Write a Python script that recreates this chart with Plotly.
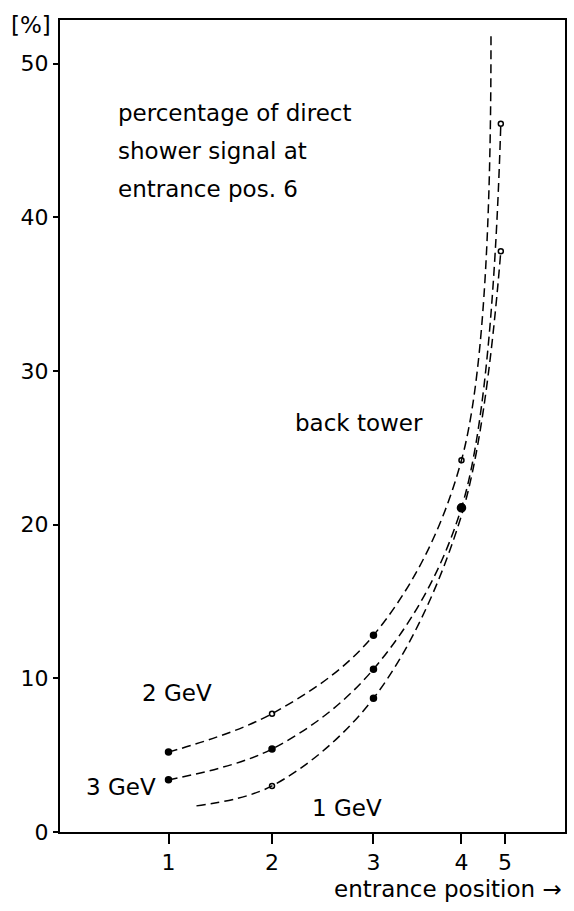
import plotly.graph_objects as go

# ---- data ----
tick_positions = [1.0, 2.0, 2.98, 3.83, 4.25]      # physical spacing of entrance positions
tick_labels = ["1", "2", "3", "4", "5"]
y_ticks = [0, 10, 20, 30, 40, 50]

# 2 GeV curve (last point = end of drawn curve, no marker)
x_2gev = [1.0, 2.0, 2.98, 3.83, 4.115]
y_2gev = [5.2, 7.7, 12.8, 24.2, 52.1]
sym_2gev = ["circle", "circle-open", "circle", "circle-open", "circle"]
size_2gev = [6, 5, 6, 5, 0]

# 3 GeV curve
x_3gev = [1.0, 2.0, 2.98, 3.83, 4.21]
y_3gev = [3.4, 5.4, 10.6, 21.1, 46.1]
sym_3gev = ["circle", "circle", "circle", "circle", "circle-open"]
size_3gev = [6, 6, 6, 8, 5]

# 1 GeV curve (first point = start of drawn curve, no marker)
x_1gev = [1.27, 2.0, 2.98, 3.83, 4.21]
y_1gev = [1.7, 3.0, 8.7, 20.6, 37.8]
sym_1gev = ["circle", "circle-open", "circle", "circle", "circle-open"]
size_1gev = [0, 5, 6, 0, 5]

FONT = "DejaVu Sans"

fig = go.Figure()
for xs, ys, syms, sizes, name in [
    (x_2gev, y_2gev, sym_2gev, size_2gev, "2 GeV"),
    (x_3gev, y_3gev, sym_3gev, size_3gev, "3 GeV"),
    (x_1gev, y_1gev, sym_1gev, size_1gev, "1 GeV"),
]:
    fig.add_trace(go.Scatter(
        x=xs, y=ys, name=name, mode="lines+markers",
        line=dict(color="black", width=1.5, dash="9px,5px", shape="spline", smoothing=1.0),
        marker=dict(color="black", symbol=syms, size=sizes, opacity=1,
                    line=dict(color="black", width=1.5)),
        showlegend=False,
    ))

L, R, T, B = 60, 7, 20, 79
W, H = 574, 911
pw, ph = W - L - R, H - T - B


def px(xp):
    return (xp - L) / pw


def py(yp):
    return (H - B - yp) / ph


annots = [
    ("[%]", 31, 25, "center"),
    ("percentage of direct", 116, 113, "left"),
    ("shower signal at", 116, 151, "left"),
    ("entrance pos. 6", 116, 189, "left"),
    ("back tower", 294, 423, "left"),
    ("2 GeV", 140, 693, "left"),
    ("3 GeV", 84, 787, "left"),
    ("1 GeV", 311, 808, "left"),
    ("entrance position \u2192", 566, 889, "right"),
]
for text, xp, yp, anchor in annots:
    fig.add_annotation(
        text=text, xref="paper", yref="paper", x=px(xp), y=py(yp),
        xanchor=anchor, yanchor="middle", showarrow=False,
        font=dict(family=FONT, size=23, color="black"),
    )

fig.update_layout(
    width=W, height=H,
    margin=dict(l=L, r=R, t=T, b=B),
    paper_bgcolor="white", plot_bgcolor="white",
    font=dict(family=FONT, size=22, color="black"),
)
fig.update_xaxes(
    range=[-0.048, 4.83], tickvals=tick_positions, ticktext=tick_labels,
    showgrid=False, zeroline=False, showline=True, linecolor="black", linewidth=2,
    mirror=True, ticks="outside", ticklen=10, tickwidth=2, tickcolor="black",
)
fig.update_yaxes(
    range=[0, 52.85], tickvals=y_ticks,
    showgrid=False, zeroline=False, showline=True, linecolor="black", linewidth=2,
    mirror=True, ticks="outside", ticklen=5, tickwidth=1.5, tickcolor="black",
)

fig.write_html("out.html")
